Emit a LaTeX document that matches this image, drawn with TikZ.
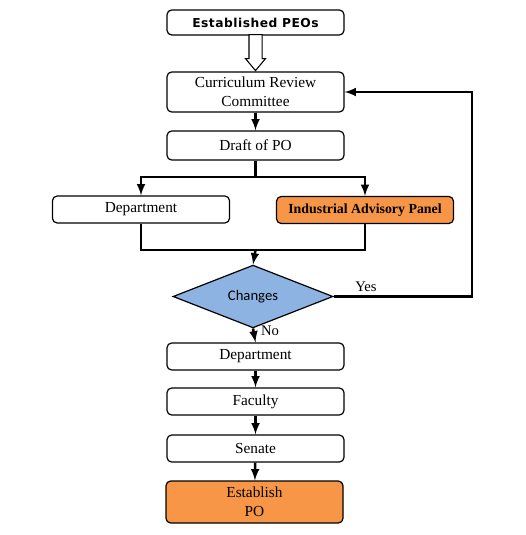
\documentclass[tikz,border=0pt]{standalone}
\usepackage{fontspec}
\setmainfont{Liberation Serif}
\newfontfamily\headfont[LetterSpace=4]{DejaVu Sans}
\newfontfamily\calfont{Carlito}
\usetikzlibrary{shapes,arrows}
\definecolor{panelorange}{HTML}{F79646}
\definecolor{decisionblue}{HTML}{8DB3E2}

\tikzset{
  stepbox/.style={draw,line width=0.9pt,rounded corners=3.5pt,minimum width=132.75pt,
    minimum height=20.25pt,inner sep=0pt,align=center,font=\fontsize{11.5}{14}\selectfont},
  conn/.style={line width=1.9pt,-latex},
  wire/.style={line width=1.9pt}
}

\begin{document}
\begin{tikzpicture}[x=0.75pt,y=-0.75pt]
\useasboundingbox (0,0) rectangle (525,535);

\node[stepbox,minimum height=18.75pt,font=\headfont\bfseries\fontsize{9.2}{11}\selectfont] (peo) at (255.5,22.5) {Established PEOs};
\node[stepbox,minimum height=30pt] (crc) at (255.5,92) {Curriculum Review\\Committee};
\node[stepbox,minimum height=21.75pt] (draft) at (255.5,145.5) {Draft of PO};
\node[stepbox] (dep1) at (141,209.5) {Department};
\node[stepbox,fill=panelorange,font=\bfseries\fontsize{10.4}{13}\selectfont] (iap) at (365,210) {Industrial Advisory Panel};
\node[diamond,draw,line width=0.9pt,fill=decisionblue,minimum width=120pt,minimum height=39.75pt,inner sep=0pt,font=\calfont\fontsize{11}{13}\selectfont] (chg) at (253,296.5) {Changes};
\node[stepbox] (dep2) at (255.5,356.5) {Department};
\node[stepbox] (fac) at (255.5,401.5) {Faculty};
\node[stepbox] (sen) at (255.5,448.5) {Senate};
\node[stepbox,minimum height=31.5pt,fill=panelorange] (est) at (254.5,502) {Establish\\PO};

\node[single arrow,draw,line width=0.8pt,fill=white,rotate=-90,anchor=tip,minimum height=27pt,
  minimum width=14.25pt,inner sep=4.5pt,single arrow head extend=2.6pt,single arrow tip angle=80] (hollow) at (crc.north) {};

\coordinate (fork) at (255.5,177);
\coordinate (join) at (255.5,250);
\coordinate (loop) at (472,0);

\draw[conn] (crc) -- (draft);
\draw[wire] (draft.south) -- (fork);
\draw[conn] (fork) -| (dep1.north);
\draw[conn] (fork) -| (iap.north);
\draw[wire] (dep1.south) |- (join) -| (iap.south);
\draw[conn] (join) -- (chg.north);
\draw[conn] (chg.east) -- (chg.east -| loop) -- (crc.east -| loop) -- (crc.east);
\draw[conn] (chg.south) -- (dep2.north);
\draw[conn] (dep2) -- (fac);
\draw[conn] (fac) -- (sen);
\draw[conn] (sen) -- (est);

\node[font=\fontsize{11}{13}\selectfont] (yes) at (366,287) {Yes};
\node[font=\fontsize{11}{13}\selectfont] (no) at (270,331) {No};

\end{tikzpicture}
\end{document}
